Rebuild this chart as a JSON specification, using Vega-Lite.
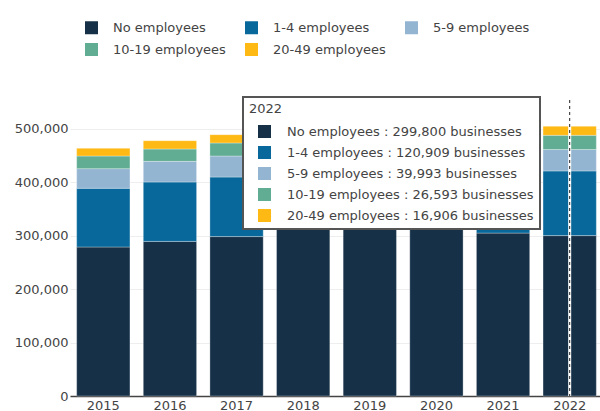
{
"$schema":"https://vega.github.io/schema/vega-lite/v6.json",
"width":530,"height":296,
"autosize":{"type":"none"},
"padding":{"left":70,"top":100,"right":0,"bottom":15},
"background":"white",
"config":{"view":{"stroke":null},"font":"DejaVu Sans","legend":{"strokeWidth":2}},
"datasets":{
"main":[
{"year":"2015","size":"No employees","rank":1,"businesses":278500},
{"year":"2015","size":"1-4 employees","rank":2,"businesses":109700},
{"year":"2015","size":"5-9 employees","rank":3,"businesses":36800},
{"year":"2015","size":"10-19 employees","rank":4,"businesses":23600},
{"year":"2015","size":"20-49 employees","rank":5,"businesses":14400},
{"year":"2016","size":"No employees","rank":1,"businesses":289000},
{"year":"2016","size":"1-4 employees","rank":2,"businesses":111000},
{"year":"2016","size":"5-9 employees","rank":3,"businesses":38600},
{"year":"2016","size":"10-19 employees","rank":4,"businesses":23100},
{"year":"2016","size":"20-49 employees","rank":5,"businesses":15600},
{"year":"2017","size":"No employees","rank":1,"businesses":298000},
{"year":"2017","size":"1-4 employees","rank":2,"businesses":111300},
{"year":"2017","size":"5-9 employees","rank":3,"businesses":39300},
{"year":"2017","size":"10-19 employees","rank":4,"businesses":24400},
{"year":"2017","size":"20-49 employees","rank":5,"businesses":15500},
{"year":"2018","size":"No employees","rank":1,"businesses":314500},
{"year":"2018","size":"1-4 employees","rank":2,"businesses":109000},
{"year":"2018","size":"5-9 employees","rank":3,"businesses":39500},
{"year":"2018","size":"10-19 employees","rank":4,"businesses":25000},
{"year":"2018","size":"20-49 employees","rank":5,"businesses":16000},
{"year":"2019","size":"No employees","rank":1,"businesses":316000},
{"year":"2019","size":"1-4 employees","rank":2,"businesses":111000},
{"year":"2019","size":"5-9 employees","rank":3,"businesses":40000},
{"year":"2019","size":"10-19 employees","rank":4,"businesses":25500},
{"year":"2019","size":"20-49 employees","rank":5,"businesses":16500},
{"year":"2020","size":"No employees","rank":1,"businesses":315000},
{"year":"2020","size":"1-4 employees","rank":2,"businesses":112000},
{"year":"2020","size":"5-9 employees","rank":3,"businesses":40000},
{"year":"2020","size":"10-19 employees","rank":4,"businesses":25500},
{"year":"2020","size":"20-49 employees","rank":5,"businesses":16500},
{"year":"2021","size":"No employees","rank":1,"businesses":304500},
{"year":"2021","size":"1-4 employees","rank":2,"businesses":119000},
{"year":"2021","size":"5-9 employees","rank":3,"businesses":39500},
{"year":"2021","size":"10-19 employees","rank":4,"businesses":26000},
{"year":"2021","size":"20-49 employees","rank":5,"businesses":16500},
{"year":"2022","size":"No employees","rank":1,"businesses":299800},
{"year":"2022","size":"1-4 employees","rank":2,"businesses":120909},
{"year":"2022","size":"5-9 employees","rank":3,"businesses":39993},
{"year":"2022","size":"10-19 employees","rank":4,"businesses":26593},
{"year":"2022","size":"20-49 employees","rank":5,"businesses":16906}
],
"hover":[
{"label":"No employees : 299,800 businesses"},
{"label":"1-4 employees : 120,909 businesses"},
{"label":"5-9 employees : 39,993 businesses"},
{"label":"10-19 employees : 26,593 businesses"},
{"label":"20-49 employees : 16,906 businesses"}
],
"spike":[{"year":"2022"}]
},
"layer":[
{"data":{"name":"main"},
 "mark":{"type":"bar","stroke":"white","strokeOpacity":0.3,"strokeWidth":1},
 "encoding":{
  "x":{"field":"year","type":"ordinal","title":null,
   "scale":{"range":[0,533],"paddingInner":0.2,"paddingOuter":0.1},
   "axis":{"labelAngle":0,"labelFontSize":13,"labelColor":"#444","domainColor":"#444","domainWidth":1.5,"ticks":false,"labelPadding":3,"grid":false}},
  "y":{"field":"businesses","type":"quantitative","stack":"zero","title":null,
   "scale":{"domain":[0,553300],"nice":false},
   "axis":{"values":[0,100000,200000,300000,400000,500000],"format":",.0f","labelFontSize":13,"labelColor":"#444","gridColor":"#eeeeee","domain":false,"ticks":false,"labelPadding":2}},
  "order":{"field":"rank","type":"quantitative"},
  "color":{"field":"size","type":"nominal",
   "scale":{"domain":["No employees","1-4 employees","5-9 employees","10-19 employees","20-49 employees"],
            "range":["#163047","#08689b","#93b5d2","#61ad93","#ffb914"]},
   "legend":{"orient":"none","direction":"horizontal","legendX":15,"legendY":-79,"title":null,"columns":3,"padding":0,"symbolType":"square","symbolSize":169,"symbolStrokeWidth":0,"labelFontSize":13,"labelColor":"#444","labelOffset":15,"columnPadding":19,"rowPadding":8,"symbolOpacity":1}}
 }},
{"data":{"name":"spike"},"mark":{"type":"rule","color":"white","strokeWidth":3},
 "encoding":{"x":{"field":"year","type":"ordinal","title":null}}},
{"data":{"name":"spike"},"mark":{"type":"rule","color":"#222","strokeWidth":1,"strokeDash":[3,3]},
 "encoding":{"x":{"field":"year","type":"ordinal","title":null}}},
{"data":{"name":"hover"},"mark":{"type":"bar","opacity":0},
 "encoding":{
  "fill":{"field":"label","type":"nominal",
   "scale":{"domain":["No employees : 299,800 businesses","1-4 employees : 120,909 businesses","5-9 employees : 39,993 businesses","10-19 employees : 26,593 businesses","20-49 employees : 16,906 businesses"],
            "range":["#163047","#08689b","#93b5d2","#61ad93","#ffb914"]},
   "legend":{"orient":"none","direction":"vertical","legendX":173,"legendY":-3,"title":"2022","titleFontSize":13,"titleFontWeight":"normal","titleColor":"#444","titlePadding":9,"padding":6,"fillColor":"white","strokeColor":"#555","symbolType":"square","symbolSize":169,"symbolOffset":9,"symbolStrokeWidth":0,"symbolOpacity":1,"labelFontSize":13,"labelColor":"#444","labelOffset":16,"labelLimit":300,"rowPadding":7}}
 }}
]
}
